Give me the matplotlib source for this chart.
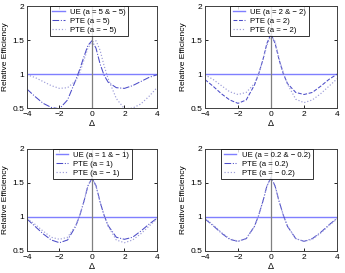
import matplotlib
matplotlib.use("Agg")
import matplotlib.pyplot as plt
from matplotlib.ticker import FormatStrFormatter

# values
delta = [-4, -3.5, -3, -2.5, -2, -1.5, -1, -0.75, -0.5, -0.25, 0,
         0.25, 0.5, 0.75, 1, 1.5, 2, 2.5, 3, 3.5, 4]

a_labels = ["5", "2", "1", "0.2"]

ue = [1.0, 1.0, 1.0, 1.0]

pte_pos = [
    [0.78, 0.67, 0.57, 0.51, 0.49, 0.62, 0.91, 1.07, 1.25, 1.42, 1.49,
     1.38, 1.15, 0.98, 0.88, 0.80, 0.79, 0.83, 0.89, 0.95, 0.99],
    [0.92, 0.82, 0.71, 0.62, 0.57, 0.62, 0.84, 1.0, 1.2, 1.45, 1.59,
     1.45, 1.2, 1.0, 0.86, 0.73, 0.70, 0.73, 0.82, 0.92, 1.0],
    [0.97, 0.86, 0.75, 0.66, 0.62, 0.66, 0.86, 1.02, 1.22, 1.45, 1.57,
     1.46, 1.22, 1.02, 0.87, 0.70, 0.67, 0.70, 0.79, 0.89, 0.98],
    [0.97, 0.87, 0.76, 0.67, 0.64, 0.68, 0.86, 1.02, 1.22, 1.45, 1.58,
     1.45, 1.22, 1.02, 0.86, 0.68, 0.64, 0.68, 0.77, 0.88, 0.98],
]
pte_neg = [
    [0.99, 0.95, 0.89, 0.83, 0.79, 0.80, 0.90, 1.02, 1.2, 1.38, 1.47,
     1.49, 1.35, 1.12, 0.93, 0.64, 0.49, 0.50, 0.56, 0.67, 0.80],
    [0.99, 0.92, 0.83, 0.74, 0.70, 0.73, 0.86, 1.0, 1.2, 1.42, 1.56,
     1.48, 1.22, 1.02, 0.85, 0.63, 0.58, 0.62, 0.71, 0.82, 0.93],
    [0.98, 0.89, 0.79, 0.70, 0.67, 0.70, 0.87, 1.02, 1.22, 1.46, 1.57,
     1.45, 1.22, 1.02, 0.86, 0.66, 0.62, 0.66, 0.75, 0.86, 0.97],
    [0.98, 0.88, 0.77, 0.68, 0.64, 0.68, 0.86, 1.02, 1.22, 1.45, 1.58,
     1.45, 1.22, 1.02, 0.86, 0.68, 0.64, 0.67, 0.76, 0.87, 0.97],
]
dash_styles = ["-.", "--", "-.", "-."]

plt.rcParams["font.family"] = ["Liberation Sans", "DejaVu Sans"]
plt.rcParams["axes.unicode_minus"] = True

fig = plt.figure(figsize=(3.45, 2.73), dpi=100)
positions = [
    [0.078, 0.604, 0.377, 0.374],
    [0.594, 0.604, 0.383, 0.374],
    [0.078, 0.081, 0.377, 0.374],
    [0.594, 0.081, 0.383, 0.374],
]
leg_x = [0.478, 0.489, 0.504, 0.47]

for i in range(4):
    ax = fig.add_axes(positions[i])
    a = a_labels[i]
    ax.axhline(ue[i], color="#7f7fff", lw=1.0, label="UE (a = %s & \u2212 %s)" % (a, a))
    ax.plot(delta, pte_pos[i], color="#4b4bc8", lw=0.75, ls=dash_styles[i],
            label="PTE (a = %s)" % a)
    ax.plot(delta, pte_neg[i], color="#9c9cd8", lw=0.85, ls=":",
            label="PTE (a = \u2212 %s)" % a)
    ax.axvline(0, color="#808080", lw=0.9)
    ax.set_xlim(-4, 4)
    ax.set_ylim(0.5, 2)
    ax.set_xticks([-4, -2, 0, 2, 4])
    ax.set_yticks([0.5, 1, 1.5, 2])
    ax.yaxis.set_major_formatter(FormatStrFormatter("%g"))
    ax.tick_params(direction="in", length=2.5, width=0.6, labelsize=6, pad=2,
                   top=True, right=True)
    for s in ax.spines.values():
        s.set_linewidth(0.7)
        s.set_color("#404040")
    ax.set_xlabel("\u0394", fontsize=6.5, labelpad=1)
    ax.set_ylabel("Relative Efficiency", fontsize=6, labelpad=2)
    leg = ax.legend(loc="upper center", bbox_to_anchor=(leg_x[i], 1.0),
                    fontsize=5.6, frameon=True, fancybox=False, borderaxespad=0,
                    handlelength=1.6, handletextpad=0.7, labelspacing=0.2,
                    borderpad=0.3)
    leg.get_frame().set_edgecolor("black")
    leg.get_frame().set_linewidth(0.7)

fig.savefig("out.png", dpi=100)
